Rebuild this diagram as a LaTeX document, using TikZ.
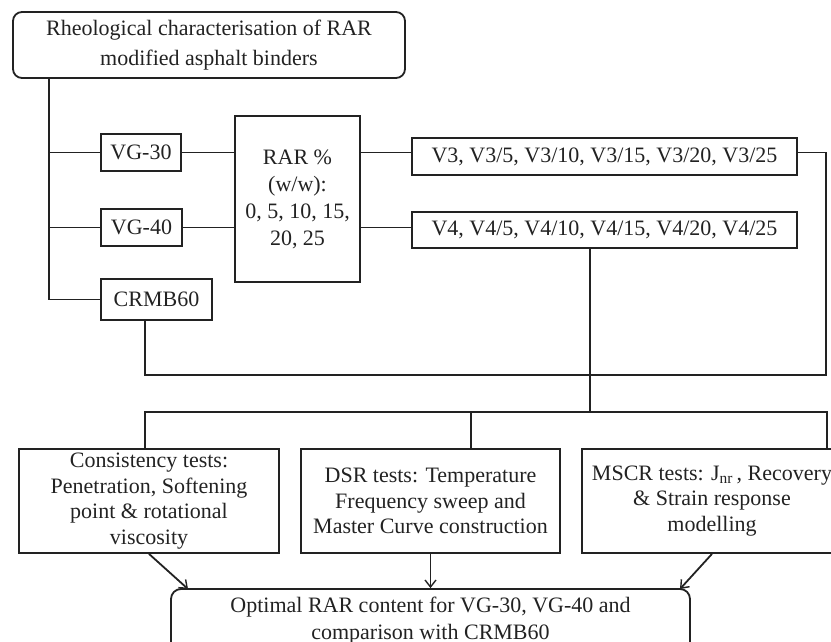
\documentclass[tikz,border=0pt]{standalone}
\usepackage{fontspec}
\setmainfont{Liberation Serif}
\usetikzlibrary{arrows.meta,calc}
\definecolor{ink}{HTML}{222222}
\begin{document}
\begin{tikzpicture}[x=1pt,y=-1pt,
  box/.style={draw=ink,line width=1.8pt,inner sep=0pt,align=center,text=ink,
    font=\fontsize{22}{25.5}\selectfont},
  ln/.style={draw=ink,line width=1.8pt},
  arr/.style={ln,-{Straight Barb[length=7pt,width=11pt,line width=1.4pt]}}]
\useasboundingbox (0,0) rectangle (831,642);
\clip (0,0) rectangle (831,642);
% nodes
\node[box,rounded corners=9pt,minimum width=392pt,minimum height=66pt,
  font=\fontsize{22}{30}\selectfont] (top) at (209,45)
  {Rheological characterisation of RAR\\modified asphalt binders};
\node[box,minimum width=80pt,minimum height=37pt] (vg30) at (141,152.5) {VG-30};
\node[box,minimum width=81pt,minimum height=37pt] (vg40) at (141.5,227.5) {VG-40};
\node[box,minimum width=111pt,minimum height=41pt] (crmb) at (156.5,299.5) {CRMB60};
\node[box,minimum width=125pt,minimum height=166pt,
  font=\fontsize{22}{27}\selectfont] (rar) at (297.5,199)
  {RAR \%\\(w/w):\\0, 5, 10, 15,\\20, 25};
\node[box,minimum width=385pt,minimum height=37pt] (v3) at (604.5,156.5)
  {V3, V3/5, V3/10, V3/15, V3/20, V3/25};
\node[box,minimum width=385pt,minimum height=36pt] (v4) at (604.5,230)
  {V4, V4/5, V4/10, V4/15, V4/20, V4/25};
\node[box,minimum width=260pt,minimum height=104pt] (cons) at (149,501)
  {Consistency tests:\\Penetration, Softening\\point \& rotational\\viscosity};
\node[box,minimum width=259pt,minimum height=104pt] (dsr) at (430.5,501)
  {DSR tests: Temperature\\Frequency sweep and\\Master Curve construction};
\node[box,minimum width=260pt,minimum height=104pt] (mscr) at (712,501)
  {MSCR tests: J\textsubscript{nr}\,, Recovery\\\& Strain response\\modelling};
\node[box,rounded corners=10pt,minimum width=519pt,minimum height=64pt,
  font=\fontsize{22}{27}\selectfont] (opt) at (430.5,621)
  {Optimal RAR content for VG-30, VG-40 and\\comparison with CRMB60};
% helper coordinates
\coordinate (tx) at (49,0);
\coordinate (bl) at (145,375);
\coordinate (br) at (826,375);
\coordinate (m) at (590,412);
\coordinate (hl) at (145,412);
\coordinate (hd) at (471,412);
\coordinate (hr) at (827,412);
\coordinate (a1) at (188,589);
\coordinate (a3) at (680,589);
% connectors
\draw[ln] (top.south -| tx) |- (crmb.west);
\draw[ln] (vg30.west -| tx) -- (vg30.west);
\draw[ln] (vg40.west -| tx) -- (vg40.west);
\draw[ln] (vg30.east) -- (rar.west |- vg30.east);
\draw[ln] (vg40.east) -- (rar.west |- vg40.east);
\draw[ln] (rar.east |- vg30.east) -- (v3.west |- vg30.east);
\draw[ln] (rar.east |- vg40.east) -- (v4.west |- vg40.east);
\draw[ln] (v3.east |- vg30.east) -| (br) -- (bl) -- (bl |- crmb.south);
\draw[ln] (v4.south -| m) -- (m);
\draw[ln] (cons.north -| hl) |- (hr) -- (mscr.north -| hr);
\draw[ln] (hd) -- (dsr.north -| hd);
\draw[arr] (cons.south) -- (a1);
\draw[arr] (dsr.south) -- (opt.north -| dsr.south);
\draw[arr] (mscr.south) -- (a3);
\end{tikzpicture}
\end{document}
